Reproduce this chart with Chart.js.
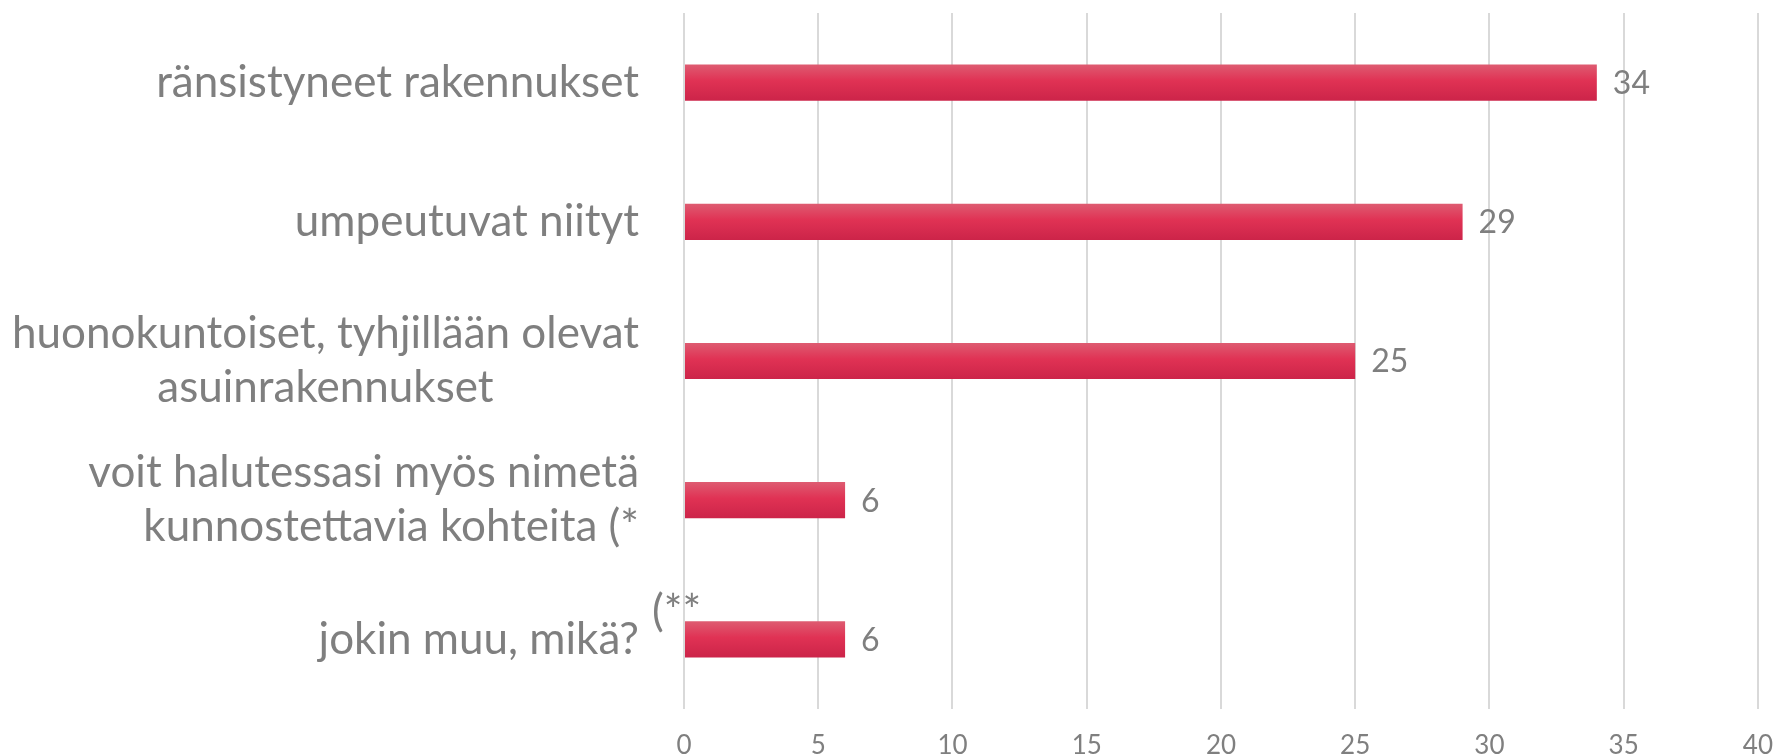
<!DOCTYPE html>
<html>
<head>
<meta charset="utf-8">
<script src="https://cdn.jsdelivr.net/npm/chart.js@4"></script>
<style>
  html, body { margin: 0; padding: 0; background: #fff; }
  #wrap { width: 1776px; height: 754px; }
</style>
</head>
<body>
<div id="wrap"><canvas id="myChart"></canvas></div>
<script>
var categories = [
    'ränsistyneet rakennukset',
    'umpeutuvat niityt',
    ['huonokuntoiset, tyhjillään olevat', 'asuinrakennukset'],
    ['voit halutessasi myös nimetä', 'kunnostettavia kohteita (*'],
    'jokin muu, mikä?'
];
var values = [34, 29, 25, 6, 6];
var footnote = '(**';

var textGray = '#7f7f7f';

// category labels, value labels and the footnote mark
var labelPlugin = {
    id: 'labels',
    afterDraw: function (chart) {
        var c = chart.ctx, ys = chart.scales.y, xs = chart.scales.x;
        c.save();
        c.fillStyle = textGray;
        c.textBaseline = 'middle';
        c.font = '44px Lato';
        categories.forEach(function (lab, i) {
            var lines = [].concat(lab);
            var w = Math.max.apply(null, lines.map(function (l) { return c.measureText(l).width; }));
            var right = ys.right - 45;
            var cy = ys.getPixelForValue(i);
            // the third label is centred line by line, the others sit flush right
            var centred = i === 2;
            c.textAlign = centred ? 'center' : 'right';
            lines.forEach(function (l, j) {
                c.fillText(l, centred ? right - w / 2 : right, cy + (j - (lines.length - 1) / 2) * 54);
            });
        });
        c.textAlign = 'left';
        c.font = '32px Lato';
        chart.getDatasetMeta(0).data.forEach(function (bar, i) {
            c.fillText(values[i], bar.x + 16, bar.y + 1);
        });
        c.font = '44px Lato';
        c.fillText(footnote, xs.left - 32, ys.getPixelForValue(4) - 28);
        c.restore();
    }
};

var ctx = document.getElementById('myChart').getContext('2d');
var myChart = new Chart(ctx, {
    type: 'bar',
    data: {
        labels: categories,
        datasets: [{
            data: values,
            backgroundColor: function (context) {
                var chart = context.chart;
                if (!chart.chartArea || context.dataIndex === undefined) return '#dc2f52';
                var cy = chart.scales.y.getPixelForValue(context.dataIndex);
                var g = chart.ctx.createLinearGradient(0, cy - 18, 0, cy + 18);
                g.addColorStop(0, '#de5b71');
                g.addColorStop(0.45, '#e03254');
                g.addColorStop(1, '#cc2449');
                return g;
            },
            borderWidth: 0,
            barPercentage: 0.52,
            categoryPercentage: 0.5
        }]
    },
    options: {
        indexAxis: 'y',
        responsive: true,
        maintainAspectRatio: false,
        animation: false,
        layout: { padding: { top: 13, right: 3, bottom: 0, left: 0 } },
        plugins: {
            legend: { display: false },
            tooltip: { enabled: false }
        },
        scales: {
            x: {
                min: 0,
                max: 40,
                ticks: {
                    stepSize: 5,
                    color: textGray,
                    padding: 3,
                    font: { family: 'Lato', size: 26 }
                },
                grid: {
                    color: '#d9d9d9',
                    lineWidth: 2,
                    drawTicks: true,
                    tickLength: 18,
                    tickColor: 'rgba(0,0,0,0)'
                },
                border: { display: false },
                afterFit: function (s) { s.height = 45; }
            },
            y: {
                ticks: { display: false },
                grid: { display: false },
                border: { display: false },
                afterFit: function (s) { s.width = 684; }
            }
        }
    },
    plugins: [labelPlugin]
});
</script>
</body>
</html>
